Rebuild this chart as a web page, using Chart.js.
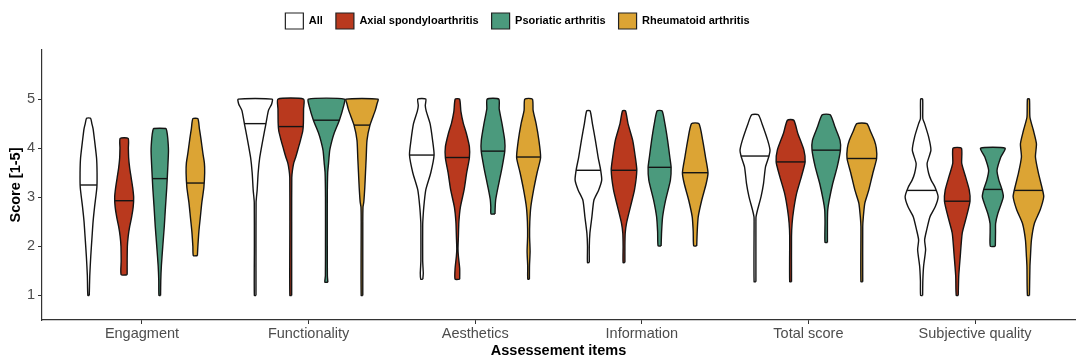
<!DOCTYPE html>
<html>
<head>
<meta charset="utf-8">
<script src="https://cdn.jsdelivr.net/npm/chart.js@4.4.1/dist/chart.umd.min.js"></script>
<style>
  html, body { margin: 0; padding: 0; background: #fff; }
  #wrap { width: 1084px; height: 361px; position: relative; }
</style>
</head>
<body>
<div id="wrap"><canvas id="chart"></canvas></div>
<script>
/* ---------- Data ---------- */
const categories = ["Engagment", "Functionality", "Aesthetics", "Information", "Total score", "Subjective quality"];
const groups = ["All", "Axial spondyloarthritis", "Psoriatic arthritis", "Rheumatoid arthritis"];
const yTicks = [1, 2, 3, 4, 5];

// medians per item: All, AxSpA, PsA, RA
const medians = [
  [3.25, 2.93, 3.38, 3.29],
  [4.50, 4.44, 4.57, 4.47],
  [3.86, 3.81, 3.94, 3.82],
  [3.55, 3.55, 3.61, 3.50],
  [3.84, 3.72, 3.96, 3.79],
  [3.14, 2.92, 3.16, 3.14]
];

// violin outlines, [score, density] from bottom to top (All, AxSpA, PsA, RA)
const engagment = [
  [[1.0,0.7],[1.4,1.2],[1.8,2.2],[2.2,3.5],[2.5,4.5],[2.8,6],[3.2,8.3],[3.5,8.5],[3.8,8],[4.16,6],[4.4,4.5],[4.5,3.3],[4.61,2]],
  [[1.42,3],[1.7,3],[2.0,3.2],[2.2,4],[2.4,5.5],[2.6,7.5],[2.8,9],[3.0,9.5],[3.2,8.5],[3.4,7],[3.6,5.5],[3.8,4.5],[4.0,4.2],[4.2,4]],
  [[1.0,0.8],[1.3,1],[1.6,1.6],[2.0,3],[2.4,4.5],[2.8,5.7],[3.2,7],[3.6,8],[3.95,8.7],[4.2,8],[4.35,7],[4.4,6]],
  [[1.81,2],[2.0,2.5],[2.3,3.5],[2.6,5],[2.9,6.5],[3.2,8.5],[3.5,9.3],[3.7,9],[3.9,7.5],[4.2,5.5],[4.4,4],[4.6,2.5]]
];
const functionality = [
  [[1.0,0.8],[2.0,0.8],[2.9,0.9],[3.0,1.3],[3.15,2],[3.5,3],[3.8,4.5],[4.15,7.5],[4.5,10.8],[4.77,13.3],[4.9,16.5],[5.0,17]],
  [[1.0,0.9],[2.5,0.9],[3.4,1],[3.55,1.7],[3.7,3],[3.82,5],[4.0,7.5],[4.16,9.7],[4.35,12],[4.5,12.6],[4.8,12.8],[5.0,12.8]],
  [[1.27,1.5],[1.4,1],[2.0,0.9],[3.0,0.9],[3.5,1.3],[3.7,2.2],[3.95,3.3],[4.15,5.5],[4.3,7.7],[4.57,13],[4.84,17],[5.0,18]],
  [[1.0,0.8],[2.5,0.8],[2.8,1],[2.9,1.8],[3.2,2.8],[3.5,3.5],[3.8,4.2],[4.16,5],[4.47,8],[4.77,13.3],[4.9,15],[5.0,16]]
];
const aesthetics = [
  [[1.33,1],[1.45,1.5],[1.7,0.9],[2.4,0.9],[2.5,1.0],[2.8,2],[3.15,4],[3.5,9],[3.86,12.3],[4.16,10.8],[4.5,8.3],[4.75,4.5],[4.87,3.5],[5.0,4]],
  [[1.33,2.3],[1.55,2.3],[1.8,1],[1.95,0.6],[2.2,1],[2.5,1.5],[2.8,3],[3.15,6.7],[3.5,9.3],[3.8,12],[4.03,12],[4.3,9],[4.5,6],[4.75,3.5],[5.0,2.2]],
  [[2.66,2],[2.8,2.2],[2.95,2.7],[3.1,4],[3.3,6],[3.6,9],[3.94,11.8],[4.16,11.7],[4.5,9],[4.8,6.2],[5.0,5.8]],
  [[1.33,0.8],[1.6,0.9],[1.9,1.5],[2.2,1],[2.5,1.2],[2.8,2.2],[3.15,5],[3.5,8.5],[3.81,12],[4.16,10.3],[4.5,7.5],[4.77,4.5],[5.0,3.8]]
];
const information = [
  [[1.67,0.9],[2.0,0.9],[2.27,1.5],[2.6,3.5],[2.94,5.5],[3.15,10.3],[3.35,13.3],[3.55,12.3],[3.82,9.7],[4.16,7],[4.5,4],[4.76,1.7]],
  [[1.67,0.9],[2.0,0.9],[2.27,1.2],[2.47,2.5],[2.81,6.5],[3.15,10.5],[3.55,12.8],[3.82,11.3],[4.16,8.7],[4.5,4],[4.76,1.5]],
  [[2.01,1.5],[2.3,2],[2.6,3],[2.94,6],[3.35,10.8],[3.61,11.5],[3.82,10.2],[4.16,8],[4.5,5.3],[4.76,2.5]],
  [[2.01,1.5],[2.3,2],[2.6,3],[2.94,6.5],[3.28,11],[3.5,12.8],[3.82,10.3],[4.16,7.5],[4.5,3.7]]
];
const totalScore = [
  [[1.28,0.9],[2.5,0.9],[2.6,1],[2.74,2.5],[3.01,6],[3.28,8.5],[3.62,10.5],[3.84,14],[3.96,15],[4.16,12.7],[4.5,7],[4.68,3.3]],
  [[1.28,0.9],[2.2,0.9],[2.47,1.5],[2.74,3],[3.08,6],[3.42,10.8],[3.72,14.5],[3.96,13.3],[4.3,7.2],[4.57,3.2]],
  [[2.08,1.2],[2.5,1.2],[2.74,1.5],[2.94,3],[3.28,6.5],[3.62,11],[3.96,14.2],[4.16,13.8],[4.43,8.8],[4.68,4]],
  [[1.28,0.9],[2.4,0.9],[2.6,1.5],[2.88,3],[3.15,7],[3.49,11],[3.79,14.8],[4.0,14.5],[4.16,12.5],[4.35,8.5],[4.5,5]]
];
const subjectiveQuality = [
  [[1.0,1],[1.3,1.2],[1.6,2],[1.93,4],[2.13,3],[2.33,5],[2.6,8.3],[2.81,13.7],[3.01,16.5],[3.2,13.5],[3.35,9.5],[3.49,7],[3.69,5.5],[3.96,9.3],[4.23,7],[4.5,3],[4.6,1.2],[5.0,1]],
  [[1.0,1],[1.39,1.5],[1.79,3],[2.27,5],[2.6,9.2],[2.92,12.8],[3.15,12],[3.42,8.3],[3.69,4.5],[4.0,4.2]],
  [[2.0,2.5],[2.3,2.7],[2.47,2.8],[2.67,5],[3.01,10.5],[3.17,9],[3.35,6],[3.55,4.2],[3.82,8],[4.0,12.2]],
  [[1.0,1],[1.59,1.5],[1.79,2],[2.13,3],[2.47,6],[2.74,11.7],[3.01,15.3],[3.16,14],[3.49,10],[3.82,7],[4.09,8],[4.36,5],[4.63,1.5],[5.0,1]]
];
const violins = [engagment, functionality, aesthetics, information, totalScore, subjectiveQuality];

/* ---------- Style ---------- */
const colors   = ["#ffffff", "#b9391e", "#4b9a7d", "#dca434"];
const outline  = "#141414";
const DODGE    = 0.2137;   // distance between violins of one item (x units)
const MAX_HALF = 0.108;    // half width of the widest violin (x units)

Chart.defaults.font.family = "'Liberation Sans', Arial, sans-serif";

/* ---------- Datasets ---------- */
const densMax = Math.max(...violins.flat(2).map(p => p[1]));
const half = d => d / densMax * MAX_HALF;

// half width of a violin at a given score (for the median bar)
function widthAt(prof, y) {
  for (let i = 1; i < prof.length; i++) {
    const [y0, d0] = prof[i - 1], [y1, d1] = prof[i];
    if (y >= y0 && y <= y1) return half(d0 + (d1 - d0) * (y - y0) / (y1 - y0));
  }
  return 0;
}

const datasets = [];
violins.forEach((cat, ci) => {
  cat.forEach((prof, gi) => {
    const cx = ci + (gi - 1.5) * DODGE;
    const right = prof.map(([y, d]) => ({ x: cx + half(d), y }));
    const left  = prof.slice().reverse().map(([y, d]) => ({ x: cx - half(d), y }));
    datasets.push({
      data: right.concat(left, [right[0]]),
      showLine: true,
      fill: "shape",
      backgroundColor: colors[gi],
      borderColor: outline,
      borderWidth: 1.4,
      tension: 0.2,
      pointRadius: 0,
      order: 1
    });
    const m = medians[ci][gi], w = widthAt(prof, m);
    datasets.push({
      data: [{ x: cx - w, y: m }, { x: cx + w, y: m }],
      showLine: true,
      fill: false,
      borderColor: outline,
      borderWidth: 1.4,
      pointRadius: 0,
      order: 0
    });
  });
});

/* ---------- Legend placement ---------- */
const legendPlacement = {
  id: "legendPlacement",
  beforeLayout(chart) {
    const legend = chart.legend;
    if (legend && !legend._fixed) {
      const fit = legend.fit.bind(legend);
      legend.fit = function () { fit(); this.height = 50; };
      legend._fixed = true;
    }
  },
  afterLayout(chart) {
    chart.legend.left -= 20;
    chart.legend.right -= 20;
  }
};

/* ---------- Chart ---------- */
new Chart(document.getElementById("chart"), {
  type: "scatter",
  data: { datasets },
  options: {
    responsive: true,
    maintainAspectRatio: false,
    animation: false,
    layout: { padding: { left: 0, right: 9, top: 0, bottom: 0 } },
    plugins: {
      legend: {
        position: "top",
        onClick: null,
        labels: {
          boxWidth: 18,
          boxHeight: 16,
          padding: 13,
          color: "#000",
          font: { size: 11, weight: "bold" },
          generateLabels: () => groups.map((g, i) => ({
            text: g, fillStyle: colors[i], strokeStyle: "#222", lineWidth: 1.2, hidden: false, datasetIndex: i
          }))
        }
      },
      tooltip: { enabled: false }
    },
    scales: {
      x: {
        type: "linear",
        min: -0.6,
        max: 5.6,
        afterBuildTicks: s => { s.ticks = categories.map((c, i) => ({ value: i })); },
        afterFit: s => { s.height = 41; },
        ticks: { callback: v => categories[v], color: "#4d4d4d", font: { size: 14.5 }, padding: 1, autoSkip: false, maxRotation: 0 },
        grid: { drawOnChartArea: false, tickLength: 4, color: "#333" },
        border: { color: "#333", width: 1.2 },
        title: { display: true, text: "Assessement items", color: "#000", font: { size: 14.5, weight: "bold" }, padding: { top: 0, bottom: 1 } }
      },
      y: {
        min: 0.5,
        max: 6,
        afterBuildTicks: s => { s.ticks = yTicks.map(v => ({ value: v })); },
        afterFit: s => { s.width = 42; },
        ticks: { color: "#4d4d4d", font: { size: 14.5 }, padding: 3 },
        grid: { drawOnChartArea: false, tickLength: 4, color: "#333" },
        border: { color: "#333", width: 1.2 },
        title: { display: true, text: "Score [1-5]", color: "#000", font: { size: 14.5, weight: "bold" }, padding: { top: 7, bottom: 0 } }
      }
    }
  },
  plugins: [legendPlacement]
});
</script>
</body>
</html>
